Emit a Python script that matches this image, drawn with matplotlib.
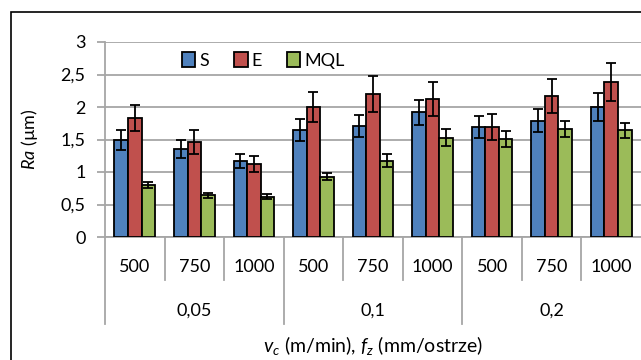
import matplotlib
matplotlib.use("Agg")
import matplotlib.pyplot as plt
import numpy as np
from matplotlib.patches import Rectangle
import matplotlib.transforms as mtransforms

plt.rcParams['font.family'] = ['Lato', 'DejaVu Sans']
plt.rcParams['mathtext.fontset'] = 'custom'
plt.rcParams['mathtext.rm'] = 'Lato'
plt.rcParams['mathtext.it'] = 'Lato:italic'

speeds = ["500", "750", "1000", "500", "750", "1000", "500", "750", "1000"]
feeds = ["0,05", "0,1", "0,2"]
series_names = ["S", "E", "MQL"]
S_vals = [1.49, 1.36, 1.17, 1.64, 1.71, 1.92, 1.69, 1.79, 2.00]
S_err = [0.15, 0.14, 0.11, 0.17, 0.17, 0.19, 0.17, 0.18, 0.21]
E_vals = [1.83, 1.46, 1.12, 2.00, 2.20, 2.12, 1.69, 2.17, 2.38]
E_err = [0.20, 0.18, 0.12, 0.23, 0.27, 0.26, 0.20, 0.26, 0.29]
MQL_vals = [0.80, 0.64, 0.62, 0.93, 1.17, 1.53, 1.51, 1.66, 1.64]
MQL_err = [0.05, 0.04, 0.04, 0.06, 0.10, 0.13, 0.12, 0.12, 0.12]
colors = ["#4F81BD", "#C0504D", "#9BBB59"]

FS = 13
W, H = 641, 360
fig = plt.figure(figsize=(W / 100, H / 100), dpi=100)
# outer chart frame
fig.patches.append(Rectangle((11 / W, -0.1), 1.2, 1 - 12 / H + 0.1, transform=fig.transFigure,
                             fill=False, edgecolor="black", linewidth=1.2))

ax = fig.add_axes([105 / W, 1 - 237 / H, (641 - 105) / W, (237 - 42) / H])
x = np.arange(len(speeds))
bw = 0.227
for i, (vals, errs, c, name) in enumerate(zip([S_vals, E_vals, MQL_vals], [S_err, E_err, MQL_err], colors, series_names)):
    ax.bar(x + (i - 1) * bw, vals, bw, yerr=errs, color=c, edgecolor="black", linewidth=1.3,
           label=name, zorder=3,
           error_kw=dict(ecolor="black", elinewidth=1.3, capsize=3.5, capthick=1.3, zorder=4))

ax.set_xlim(-0.5, len(speeds) - 0.5)
ax.set_ylim(0, 3)
ax.set_yticks(np.arange(0, 3.01, 0.5))
ax.set_yticklabels(["0", "0,5", "1", "1,5", "2", "2,5", "3"], fontsize=FS)
ax.yaxis.grid(True, color="#A6A6A6", linewidth=1.3, zorder=0)
ax.set_axisbelow(True)
for s in ["top", "right"]:
    ax.spines[s].set_visible(False)
ax.spines["left"].set_color("#A6A6A6")
ax.spines["left"].set_linewidth(1.3)
ax.spines["bottom"].set_color("#A6A6A6")
ax.spines["bottom"].set_linewidth(1.3)
ax.tick_params(axis="y", length=6, color="#A6A6A6", width=1.3, pad=8)
ax.set_xticks([])

trans = mtransforms.blended_transform_factory(ax.transData, ax.transAxes)
for i, lab in enumerate(speeds):
    ax.text(i, -0.155, lab, transform=trans, ha="center", va="center", fontsize=FS)
for b in range(len(speeds)):
    xb = b - 0.5
    long = (b % 3 == 0)
    y2 = -0.446 if long else -0.22
    ax.plot([xb, xb], [0, y2], transform=trans, color="#A6A6A6", linewidth=1.3, clip_on=False)
for g, lab in enumerate(feeds):
    ax.text(g * 3 + 1, -0.38, lab, transform=trans, ha="center", va="center", fontsize=FS)

ax.text(0.5, -0.555, r"$v_c$ (m/min), $f_z$ (mm/ostrze)", transform=ax.transAxes,
        ha="center", va="center", fontsize=14)
ax.text(-0.14, 0.5, r"$\mathit{Ra}$ (µm)", transform=ax.transAxes, rotation=90,
        ha="center", va="center", fontsize=FS)

leg = ax.legend(loc="upper left", bbox_to_anchor=(0.13, 0.985), ncol=3, frameon=False,
                fontsize=FS, handlelength=0.75, handleheight=0.85, handletextpad=0.2,
                columnspacing=1.4, borderaxespad=0)

fig.savefig("out.png", dpi=100)
